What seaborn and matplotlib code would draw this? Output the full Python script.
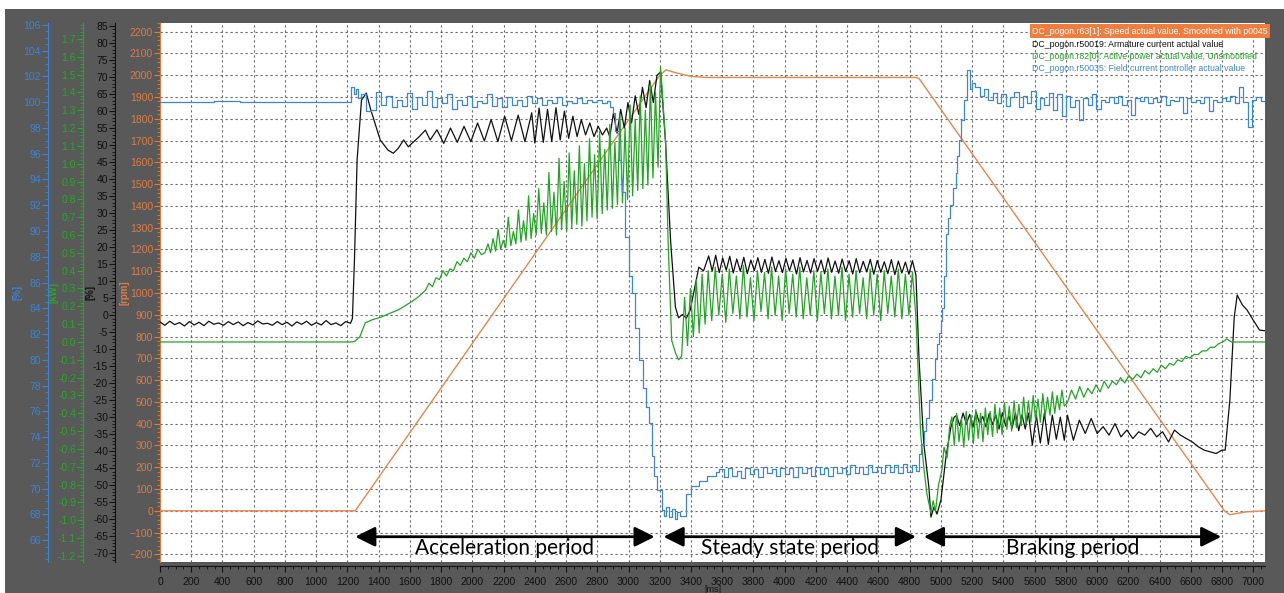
import numpy as np
import matplotlib
matplotlib.use("Agg")
import matplotlib.pyplot as plt
import seaborn as sns
from matplotlib.patches import Rectangle
from matplotlib.ticker import MultipleLocator, FormatStrFormatter

# ---- trace data (time in ms) ----
speed_t = [0, 1250, 3200, 3240, 3300, 3400, 3500, 4840, 4860, 6815, 6850, 6950, 7075]
speed_rpm = [0, 0, 2000, 2025, 2012, 1995, 1990, 1990, 1985, 0, -18, -5, 0]

blue_start = [100.0, 100.0, 100.1, 100.0, 100.0, 100.05, 100.0, 100.0]
blue_jump_t = [1215, 1225, 1240, 1255, 1270]
blue_jump_v = [100.0, 101.2, 100.6, 101.0, 100.3]
blue_acc = [100.6, 99.3, 99.4, 100.8, 99.8, 100.5, 99.6, 100.2, 99.7, 100.7,
            99.5, 100.4, 99.8, 100.9, 99.6, 100.3, 99.9, 100.6, 99.5, 100.2,
            99.8, 100.5, 99.6, 100.1, 99.9, 100.6, 99.7, 100.3, 99.6, 100.4,
            99.8, 100.2, 99.7, 100.5, 99.9, 100.3, 99.8, 100.2, 99.9, 100.4,
            99.8, 100.1, 99.9, 100.3, 99.9, 100.2, 100.0, 100.2, 99.9, 100.1]
blue_drop_t = [2880, 2900, 2915, 2936, 2950, 2960, 2980, 3000, 3020, 3040, 3064,
               3090, 3110, 3128, 3150, 3165, 3180, 3212]
blue_drop_v = [99.6, 99.2, 97.8, 95.5, 94.0, 93.0, 89.5, 86.5, 85.2, 82.5, 80.0,
               77.8, 76.3, 75.1, 72.5, 71.0, 69.9, 68.3]
blue_low = [67.9, 68.6, 67.8, 68.4, 67.6, 68.2, 67.9]
blue_rec_t = [3365, 3400, 3450, 3500, 3557]
blue_rec_v = [69.6, 70.2, 70.6, 71.0, 71.3]
blue_steady = [71.5, 70.9, 71.6, 71.0, 71.4, 70.8, 71.6, 71.1, 71.5, 70.9,
               71.7, 71.2, 71.5, 71.0, 71.6, 71.1, 71.6, 70.9, 71.7, 71.2,
               71.6, 71.0, 71.7, 71.1, 71.6, 71.0, 71.7, 71.2, 71.6, 71.1,
               71.8, 71.2, 71.7, 71.1, 71.8, 71.3, 71.7, 71.2, 71.8, 71.3,
               71.8, 71.2, 71.9, 71.3, 71.8, 71.4]
blue_rise_t = [4860, 4875, 4890, 4905, 4923, 4940, 4960, 4975, 4987, 5000, 5010, 5020,
               5032, 5045, 5060, 5078, 5096, 5105, 5115, 5130, 5147, 5167, 5185, 5200]
blue_rise_v = [72.7, 73.5, 74.5, 75.5, 76.9, 78.5, 80.1, 81.2, 82.1, 83.0, 84.0, 86.5,
               89.8, 91.0, 92.0, 93.3, 94.5, 95.8, 97.1, 98.6, 100.2, 102.5, 101.0, 101.5]
blue_brake = [101.2, 100.5, 101.0, 100.2, 100.7, 99.9, 100.6, 99.7, 100.4, 100.8,
              99.6, 100.5, 99.9, 100.9, 99.5, 100.3, 99.8, 100.7, 99.4, 100.6,
              98.9, 100.5, 99.6, 100.2, 98.6, 100.3, 99.8, 100.6, 99.5, 100.2,
              100.0, 100.4, 99.9, 100.5, 99.8, 100.2, 99.0, 100.3, 100.1, 100.4,
              99.9, 100.3, 100.0, 100.5, 99.8, 100.2, 100.1, 100.4, 99.2, 100.3,
              100.0, 100.2, 99.9, 100.4, 99.3, 100.2, 100.0, 100.3, 100.1, 100.5,
              99.9, 101.2, 100.0, 98.1, 100.2, 100.4, 100.1, 100.2]

black_idle = [-2.0, -3.0, -1.8, -2.8, -2.2, -3.2, -1.9, -2.9, -2.1, -3.1,
              -1.8, -2.7, -2.3, -3.0, -1.9, -2.8, -2.0, -3.1, -2.2, -2.9,
              -1.7, -2.6, -2.4, -3.0, -1.9, -2.8, -2.1, -3.2, -2.0, -2.7,
              -1.8, -3.0, -2.2, -2.9, -1.6, -2.8, -2.3, -3.1, -1.9, -2.4]
black_rise_t = [1232, 1245, 1262, 1290, 1321, 1350, 1410, 1460, 1494, 1526, 1560, 1590, 1622, 1660, 1699]
black_rise_v = [-1.0, 16.2, 45.6, 63.2, 65.3, 60.3, 51.5, 48.5, 47.6, 49.1, 51.5, 49.5, 50.9, 52.5, 54.4]
black_acc_a = [51.5, 54.5, 50.5, 55.0, 50.8, 55.5, 51.0, 56.5, 51.2, 57.5, 51.0, 58.5, 51.3, 58.8, 51.0, 59.5]
black_acc_b = [50.6, 60.9, 50.8, 60.5, 51.0, 61.0, 51.5, 60.0, 52.0, 58.5, 52.5, 57.5, 53.0, 56.5, 52.5, 55.5, 53.0, 55.0]
black_acc_c = [52.4, 59.4, 53.5, 60.5, 55.0, 62.5, 56.5, 64.5, 59.0, 67.0, 61.0, 69.0, 62.5, 70.5, 71.5]
black_fall_t = [3237, 3269, 3300, 3320, 3345, 3370, 3395, 3417, 3450, 3480]
black_fall_v = [50.6, 22.0, 2.4, -0.8, 0.2, -0.9, 1.5, 6.5, 14.1, 13.0]
black_steady = [17.4, 13.0, 17.6, 12.5, 16.8, 13.2, 17.3, 12.4, 16.5, 12.9,
                17.0, 12.2, 16.2, 13.1, 16.9, 12.6, 16.4, 12.3, 17.1, 12.8,
                16.0, 12.5, 16.7, 13.0, 16.3, 12.1, 16.9, 12.7, 16.1, 12.4,
                16.6, 12.9, 16.2, 12.2, 16.8, 12.6, 15.9, 12.3, 16.5, 12.8,
                16.0, 12.1, 16.6, 12.5, 15.8, 12.7, 16.4, 12.0, 16.1, 12.6,
                15.7, 12.2, 16.3, 11.9, 15.9, 12.4, 15.6, 12.0, 16.0, 11.8]
black_drop_t = [4860, 4890, 4923, 4936, 4955, 4975, 5000, 5032, 5064, 5085]
black_drop_v = [-13.2, -37.6, -50.6, -59.4, -56.5, -58.5, -54.4, -41.8, -32.9, -30.0]
black_brake_a = [-29.5, -32.5, -28.8, -32.0, -29.2, -33.0, -28.5, -31.8, -29.8, -32.9, -28.9,
                 -32.2, -29.4, -33.5, -28.7, -32.6, -29.6, -33.2, -28.8, -34.0, -29.3, -33.5]
black_brake_b = [-28.8, -38.2, -29.5, -37.6, -28.8, -38.0, -29.4, -36.5, -30.0, -36.8]
black_brake_c = [-29.4, -36.8, -30.9, -34.8, -30.4, -34.8, -32.8, -35.3, -31.9, -35.8,
                 -33.8, -36.3, -34.3, -35.3, -33.3, -35.8, -34.3, -37.3, -33.8, -35.3,
                 -36.3, -37.3, -38.7, -39.7, -40.2, -40.7, -39.7]
black_end_t = [6820, 6850, 6878, 6897, 6930, 6960, 7000, 7040, 7075]
black_end_v = [-39.7, -25.0, -0.6, 5.9, 3.0, 1.5, -1.5, -4.4, -4.6]

green_idle_t = [0, 1230]
green_idle_v = [0.0, 0.0]
green_rise_t = [1250, 1280, 1314, 1360, 1417, 1470, 1526, 1600, 1650]
green_rise_v = [0.005, 0.03, 0.107, 0.125, 0.14, 0.16, 0.18, 0.22, 0.25]
green_ramp = [0.29, 0.33, 0.31, 0.36, 0.35, 0.40, 0.37, 0.41, 0.40,
              0.45, 0.43, 0.47, 0.45, 0.50, 0.47, 0.52, 0.49, 0.50]
green_acc = [0.55, 0.50, 0.58, 0.51, 0.63, 0.52, 0.57, 0.53, 0.70, 0.54,
             0.62, 0.55, 0.74, 0.56, 0.68, 0.57, 0.82, 0.58, 0.72, 0.60,
             0.86, 0.61, 0.78, 0.60, 0.95, 0.62, 0.84, 0.60, 1.03, 0.63,
             0.90, 0.62, 1.06, 0.64, 0.96, 0.66, 1.10, 0.65, 1.00, 0.68,
             1.14, 0.70, 1.05, 0.69, 1.18, 0.72, 1.08, 0.74, 1.22, 0.75,
             1.12, 0.77, 1.27, 0.78, 1.20, 0.80, 1.33, 0.82, 1.25, 0.85,
             1.38, 0.86, 1.30, 0.88, 1.45, 0.92, 1.40, 0.98, 1.54]
green_fall_t = [3237, 3253, 3276, 3300, 3320]
green_fall_v = [1.13, 0.57, 0.01, -0.06, -0.10]
green_settle = [-0.08, 0.25, -0.02, 0.30, 0.03, 0.35, 0.05, 0.38, 0.10]
green_steady = [0.40, 0.12, 0.42, 0.15, 0.38, 0.11, 0.41, 0.16, 0.37, 0.13,
                0.43, 0.14, 0.36, 0.12, 0.40, 0.17, 0.39, 0.13, 0.42, 0.15,
                0.37, 0.12, 0.41, 0.16, 0.38, 0.14, 0.42, 0.13, 0.36, 0.15,
                0.40, 0.12, 0.39, 0.16, 0.41, 0.13, 0.37, 0.15, 0.42, 0.12,
                0.38, 0.14, 0.40, 0.16, 0.36, 0.13, 0.41, 0.15, 0.38, 0.12,
                0.40, 0.16, 0.37, 0.14, 0.41, 0.13, 0.38, 0.15, 0.39, 0.14]
green_drop_t = [4870, 4890, 4910, 4936, 4950, 4965, 4985, 5006, 5020, 5040, 5055]
green_drop_v = [-0.51, -0.70, -0.85, -0.96, -0.89, -0.95, -0.80, -0.72, -0.59, -0.65, -0.48]
green_brake = [-0.42, -0.58, -0.40, -0.56, -0.43, -0.59, -0.39, -0.55, -0.41, -0.57,
               -0.38, -0.54, -0.40, -0.56, -0.37, -0.52, -0.39, -0.53, -0.35, -0.51,
               -0.37, -0.52, -0.34, -0.49, -0.36, -0.50, -0.33, -0.48, -0.35, -0.47,
               -0.31, -0.46, -0.33, -0.45, -0.30, -0.44, -0.32, -0.45, -0.29, -0.42,
               -0.31, -0.41, -0.28, -0.40, -0.30, -0.38, -0.27, -0.36]
green_late = [-0.34, -0.27, -0.32, -0.25, -0.31, -0.26, -0.29, -0.24, -0.28, -0.22,
              -0.26, -0.22, -0.24, -0.20, -0.23, -0.19, -0.21, -0.18, -0.20, -0.16,
              -0.18, -0.15, -0.17, -0.13, -0.15, -0.12, -0.13, -0.10, -0.11, -0.08,
              -0.09, -0.07, -0.07, -0.05, -0.05, -0.03, -0.03, -0.01, 0.0, 0.017]
green_end_t = [6860, 7075]
green_end_v = [0.0, 0.0]

legend_lines = ["DC_pogon.r63[1]: Speed actual value, Smoothed with p0045",
                "DC_pogon.r50019: Armature current actual value",
                "DC_pogon.r82[0]: Active power actual value, Unsmoothed",
                "DC_pogon.r50035: Field current controller actual value"]
periods = [("Acceleration period", 1250, 3167),
           ("Steady state period", 3224, 4840),
           ("Braking period", 4891, 6795)]


def seg(t0, t1, vals):
    # samples of the recorder between two times
    return np.linspace(t0, t1, len(vals)), vals


def build(parts):
    t = np.concatenate([np.asarray(p[0], float) for p in parts])
    v = np.concatenate([np.asarray(p[1], float) for p in parts])
    return t, v


blue_t, blue_v = build([seg(0, 1200, blue_start), (blue_jump_t, blue_jump_v),
                        seg(1290, 2860, blue_acc), (blue_drop_t, blue_drop_v),
                        seg(3225, 3330, blue_low), (blue_rec_t, blue_rec_v),
                        seg(3580, 4840, blue_steady), (blue_rise_t, blue_rise_v),
                        seg(5220, 7075, blue_brake)])
black_t, black_v = build([seg(0, 1220, black_idle), (black_rise_t, black_rise_v),
                          seg(1730, 2380, black_acc_a), seg(2400, 2860, black_acc_b),
                          seg(2880, 3205, black_acc_c), (black_fall_t, black_fall_v),
                          seg(3513, 4840, black_steady), (black_drop_t, black_drop_v),
                          seg(5100, 5540, black_brake_a), seg(5560, 5790, black_brake_b),
                          seg(5810, 6800, black_brake_c), (black_end_t, black_end_v)])
green_t, green_v = build([(green_idle_t, green_idle_v), (green_rise_t, green_rise_v),
                          seg(1700, 2080, green_ramp), seg(2100, 3205, green_acc),
                          (green_fall_t, green_fall_v), seg(3340, 3490, green_settle),
                          seg(3510, 4840, green_steady), (green_drop_t, green_drop_v),
                          seg(5070, 5790, green_brake), seg(5810, 6830, green_late),
                          (green_end_t, green_end_v)])

ORANGE = "#EE8548"
ORANGE_AX = "#DD7C45"
BLACK = "#111111"
GREEN = "#1FA81F"
GREEN_AX = "#25A825"
BLUE = "#3A86DA"
BLUE_AX = "#3C83D6"
GRAY = "#595959"

sns.set_style("white")
plt.rcParams["font.family"] = ["Liberation Sans", "DejaVu Sans"]

fig = plt.figure(figsize=(12.84, 5.93), dpi=100)
fig.patch.set_facecolor("white")
fig.patches.append(Rectangle((5 / 1284, 0), 1, 584 / 593, transform=fig.transFigure,
                             facecolor=GRAY, edgecolor="none", zorder=-10))

ax = fig.add_axes([160 / 1284, 31 / 593, 1105 / 1284, 539 / 593])
ax.set_facecolor("white")

sns.lineplot(x=np.array(speed_t, float), y=np.array(speed_rpm, float), ax=ax,
             color=ORANGE, linewidth=1.0, estimator=None, sort=False)
ax.set_xlim(0, 7075)
ax.set_ylim(-235, 2240)
ax.xaxis.set_major_locator(MultipleLocator(200))
ax.xaxis.set_minor_locator(MultipleLocator(50))
ax.yaxis.set_major_locator(MultipleLocator(100))
ax.yaxis.set_minor_locator(MultipleLocator(20))
ax.grid(True, which="major", color="#6a6a6a", linestyle=(0, (2, 2.5)), linewidth=0.8)
for s in ["top", "right"]:
    ax.spines[s].set_visible(False)
ax.spines["left"].set_color(ORANGE_AX)
ax.spines["bottom"].set_color(BLACK)
ax.spines["bottom"].set_position(("outward", 3))
ax.tick_params(axis="y", which="both", direction="out", colors=ORANGE_AX, labelsize=7.5, pad=1)
ax.tick_params(axis="y", which="major", length=4, width=0.8, left=True)
ax.tick_params(axis="y", which="minor", length=2, width=0.6, left=True)
ax.tick_params(axis="x", which="both", direction="out", colors=BLACK, labelsize=7.5, bottom=True)
ax.tick_params(axis="x", which="major", length=4, width=0.8)
ax.tick_params(axis="x", which="minor", length=2, width=0.6)
ax.set_xlabel("[ms]", fontsize=6.5, color=BLACK, labelpad=-1)
ax.set_ylabel("[rpm]", fontsize=7, color=ORANGE_AX, rotation=90, va="center", ha="center",
              fontweight="bold")
ax.yaxis.set_label_coords(-0.0317, 0.5)


def add_axis(frac, color, lim, major, minor, fmt, label, label_x):
    a = ax.twinx()
    a.set_ylim(*lim)
    a.spines["right"].set_visible(False)
    a.spines["top"].set_visible(False)
    a.spines["bottom"].set_visible(False)
    a.spines["left"].set_visible(True)
    a.spines["left"].set_position(("axes", frac))
    a.spines["left"].set_color(color)
    a.yaxis.set_ticks_position("left")
    a.yaxis.set_label_position("left")
    a.yaxis.set_major_locator(MultipleLocator(major))
    a.yaxis.set_minor_locator(MultipleLocator(minor))
    a.yaxis.set_major_formatter(FormatStrFormatter(fmt))
    a.tick_params(axis="y", which="both", direction="out", colors=color, labelsize=7.5, pad=1)
    a.tick_params(axis="y", which="major", length=4, width=0.8)
    a.tick_params(axis="y", which="minor", length=2, width=0.6)
    a.set_ylabel(label, fontsize=7, color=color, rotation=90, va="center", ha="center",
                 fontweight="bold")
    a.yaxis.set_label_coords(label_x, 0.5)
    return a


ax_black = add_axis(-0.0407, BLACK, (-72.6, 85.9), 5, 1, "%d", "[%]", -0.0633)
ax_green = add_axis(-0.0697, GREEN_AX, (-1.234, 1.789), 0.1, 0.02, "%.1f", "[kW]", -0.0968)
ax_blue = add_axis(-0.1014, BLUE_AX, (64.3, 106.15), 2, 0.5, "%d", "[%]", -0.1294)
ax_green.set_yticks([v / 10 for v in range(-12, 18)])
ax_black.set_yticks(list(range(-70, 86, 5)))
ax_blue.set_yticks(list(range(66, 107, 2)))

sns.lineplot(x=black_t, y=black_v, ax=ax_black, color=BLACK, linewidth=0.9,
             estimator=None, sort=False)
sns.lineplot(x=green_t, y=green_v, ax=ax_green, color=GREEN, linewidth=0.9,
             estimator=None, sort=False)
sns.lineplot(x=blue_t, y=blue_v, ax=ax_blue, color=BLUE, linewidth=0.9,
             estimator=None, sort=False, drawstyle="steps-post")
for a in [ax_black, ax_green, ax_blue]:
    a.set_xlim(0, 7075)
    a.set_xlabel("")

# legend block in the top right corner
legend_colors = ["white", BLACK, GREEN, BLUE]
legend_y = [0.985, 0.961, 0.938, 0.915]
for txt, c, y in zip(legend_lines, legend_colors, legend_y):
    kw = {}
    if c == "white":
        kw["bbox"] = dict(facecolor="#F07D3E", edgecolor="none", pad=1.5)
    ax_blue.text(0.789, y, txt, transform=ax_blue.transAxes, fontsize=6.3, color=c,
                 va="center", ha="left", zorder=20, **kw)

# period arrows
for name, t0, t1 in periods:
    ax.annotate("", xy=(t0, -119), xytext=(t1, -119),
                arrowprops=dict(arrowstyle="<|-|>,head_length=0.8,head_width=0.4",
                                color="black", lw=2, mutation_scale=15,
                                shrinkA=0, shrinkB=0), zorder=5)
    ax.text((t0 + t1) / 2, -172, name, fontsize=15, family=["Lato", "DejaVu Sans"],
            ha="center", va="center", color="black", zorder=5)

fig.savefig("out.png", dpi=100, facecolor=fig.get_facecolor())
